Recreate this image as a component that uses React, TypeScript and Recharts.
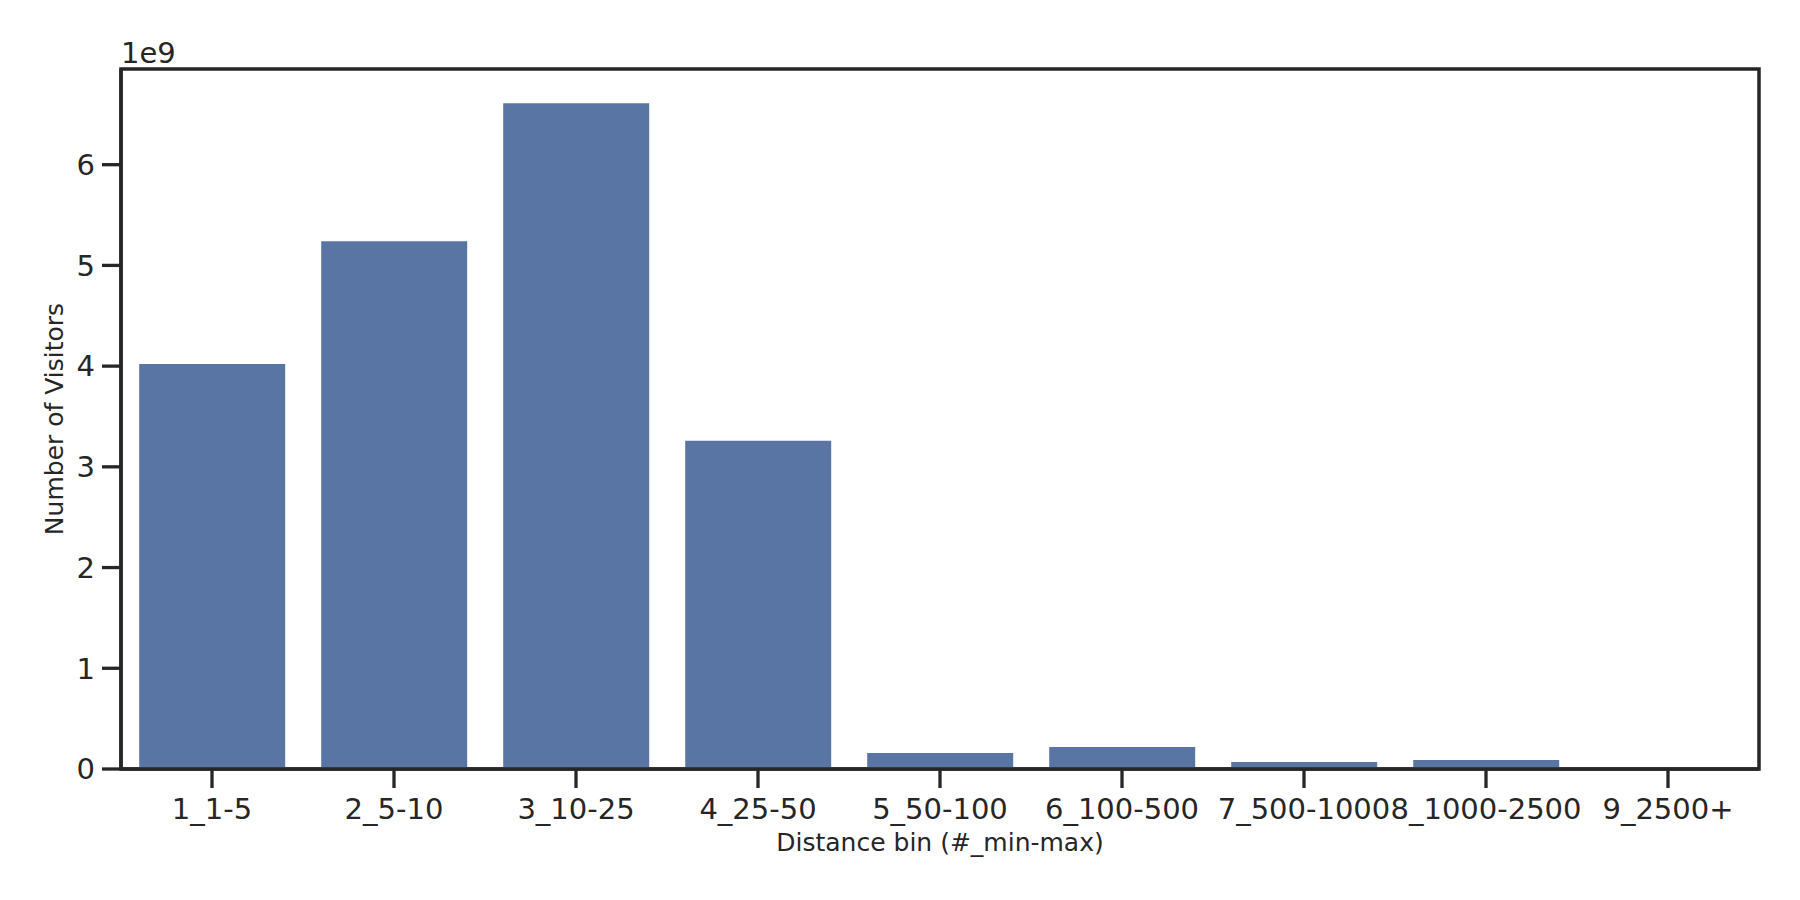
import React from 'react';
import { BarChart, Bar, XAxis, YAxis, ReferenceArea } from 'recharts';

const bins = ['1_1-5', '2_5-10', '3_10-25', '4_25-50', '5_50-100', '6_100-500', '7_500-1000', '8_1000-2500', '9_2500+'];
const visitors = [4.02e9, 5.24e9, 6.61e9, 3.26e9, 0.158e9, 0.218e9, 0.069e9, 0.089e9, 0.004e9];
const yTicks = [0, 1e9, 2e9, 3e9, 4e9, 5e9, 6e9];
const yMax = 6.95e9;

const data = bins.map((bin, i) => ({ bin, visitors: visitors[i] }));

const ink = '#262626';
const font = 'DejaVu Sans';

function App() {
    return (
        <BarChart
            width={1784}
            height={884}
            data={data}
            margin={{ top: 61, right: 33, left: 0, bottom: 0 }}
            barCategoryGap="10%"
        >
            <XAxis
                dataKey="bin"
                height={123}
                interval={0}
                tickSize={19}
                tickMargin={10}
                axisLine={{ stroke: ink, strokeWidth: 3.5 }}
                tickLine={{ stroke: ink, strokeWidth: 3.3 }}
                tick={{ fill: ink, fontSize: 29, fontFamily: font }}
                label={{ value: 'Distance bin (#_min-max)', position: 'insideBottom', offset: 41, fill: ink, fontSize: 25, fontFamily: font }}
            />
            <YAxis
                width={113}
                domain={[0, yMax]}
                ticks={yTicks}
                tickFormatter={(v) => String(v / 1e9)}
                tickSize={19}
                tickMargin={7}
                axisLine={{ stroke: ink, strokeWidth: 3.5 }}
                tickLine={{ stroke: ink, strokeWidth: 3.3 }}
                tick={{ fill: ink, fontSize: 29, fontFamily: font }}
                label={{ value: 'Number of Visitors', angle: -90, position: 'insideLeft', offset: 46, textAnchor: 'middle', fill: ink, fontSize: 25, fontFamily: font }}
            />
            <Bar dataKey="visitors" fill="#5975a4" isAnimationActive={false} />
            <ReferenceArea
                x1={bins[0]}
                x2={bins[bins.length - 1]}
                y1={0}
                y2={yMax}
                fill="none"
                stroke={ink}
                strokeWidth={3.5}
                ifOverflow="visible"
            />
            <text x={113} y={55} fill={ink} fontSize={29} fontFamily={font}>1e9</text>
        </BarChart>
    )
}

export default App;
